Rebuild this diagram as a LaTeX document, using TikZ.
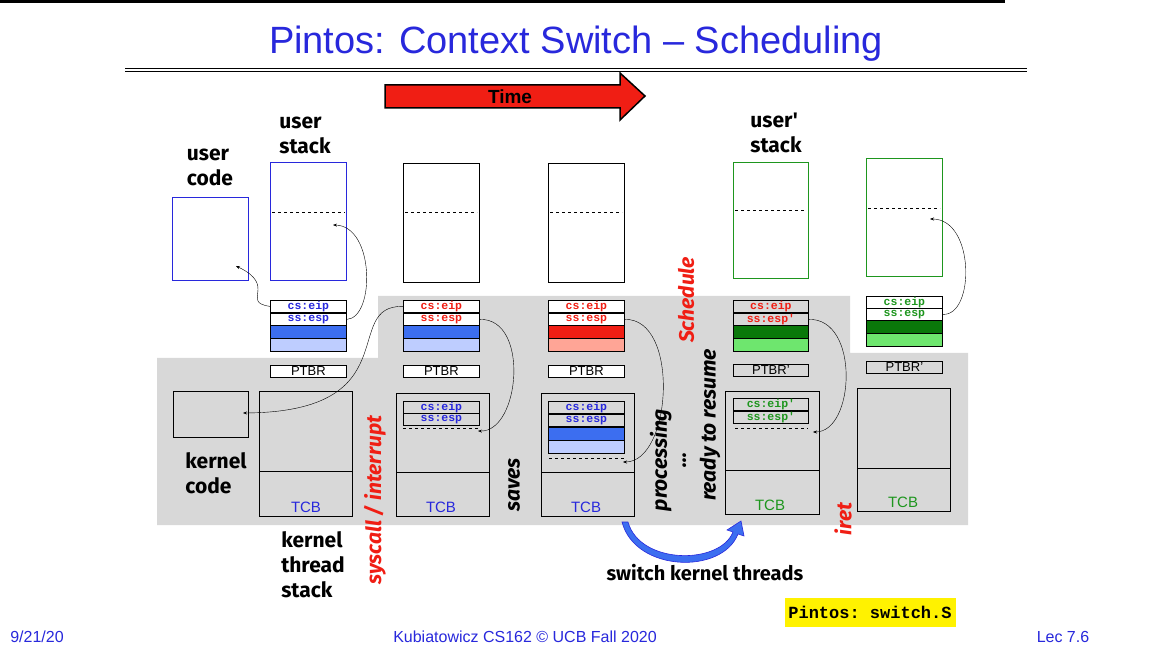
\documentclass[tikz,border=0pt]{standalone}
\usepackage{fontspec}
\setmainfont{Liberation Sans}
\newfontfamily\comic{Fira Sans}
\setmonofont{Liberation Mono}
\usetikzlibrary{arrows.meta,positioning}
\definecolor{colblue}{RGB}{40,40,220}
\definecolor{colfill}{RGB}{60,110,240}
\definecolor{colfilllt}{RGB}{190,205,255}
\definecolor{colred}{RGB}{240,30,20}
\definecolor{colredlt}{RGB}{255,165,150}
\definecolor{colgreen}{RGB}{30,150,30}
\definecolor{colgreendk}{RGB}{10,120,10}
\definecolor{colgreenlt}{RGB}{110,230,110}
\definecolor{colgray}{RGB}{216,216,216}
\tikzset{
	>={Stealth[length=4pt]},
	memory/.style={draw, minimum width=76pt, anchor=north west, inner sep=0pt},
	cell/.style={draw, thick, minimum width=76pt, minimum height=12pt, anchor=north west, inner sep=0pt, font=\ttfamily\bfseries\fontsize{11.5}{11}\selectfont},
	reg/.style={cell, font=\fontsize{13}{13}\selectfont},
	kstack/.style={draw, minimum width=93pt, anchor=north west, inner sep=0pt},
	label/.style={font=\comic\bfseries\fontsize{21}{25}\selectfont, align=left},
	side/.style={font=\comic\bfseries\itshape\fontsize{21}{19}\selectfont, rotate=90},
	foot/.style={text=colblue, font=\fontsize{16}{16}\selectfont},
	link/.style={->, thin}
}
\begin{document}
\begin{tikzpicture}[x=1pt,y=-1pt]
	\useasboundingbox (0,0) rectangle (1152,652);
	\fill[white] (0,0) rectangle (1152,652);
	\fill[black] (0,0) rectangle (1005,3);

	% title
	\node[text=colblue, font=\fontsize{38}{38}\selectfont] (title) at (576,44) {Pintos: Context Switch -- Scheduling};
	\draw[thick] (125,68) -- (1027,68);
	\draw (125,71) -- (1027,71);

	% time arrow
	\draw[fill=colred, line width=1.5pt] (385,85) -- (620,85) -- (620,73) -- (645,96) -- (620,120) -- (620,108) -- (385,108) -- cycle;
	\node[font=\bfseries\fontsize{19}{19}\selectfont] (time) at (510,97) {Time};

	% kernel area
	\fill[colgray] (157,358) -- (378,358) -- (378,296) -- (850,296) -- (850,353) -- (968,353) -- (968,525) -- (157,525) -- cycle;

	% user column
	\node[memory, draw=colblue, minimum height=83pt] (ucode) at (172,197) {};
	\node[memory, draw=colblue, minimum height=118pt] (ustack) at (270,162) {};
	\draw[dashed] (272,212) -- (345,212);
	\coordinate (utop) at (333,225);
	\node[cell, fill=white, text=colblue] (ueip) at (270,300) {cs:eip};
	\node[cell, fill=white, text=colblue] (uesp) at (270,313) {ss:esp};
	\node[cell, fill=colfill, minimum height=13pt] (ua) at (270,325) {};
	\node[cell, fill=colfilllt, minimum height=13pt] (ub) at (270,338) {};
	\node[reg, fill=white] (uptbr) at (270,365) {PTBR};
	\node[memory, minimum width=75pt, minimum height=46pt] (kcode) at (173,391) {};
	\node[kstack, minimum height=125pt] (ukstack) at (259,391) {};
	\draw[thick] (259,471) -- (352,471);
	\node[text=colblue, font=\fontsize{15}{15}\selectfont] (utcb) at (306,507) {TCB};

	% column after syscall
	\node[memory, minimum height=119pt] (bstack) at (403,163) {};
	\draw[dashed] (405,212) -- (477,212);
	\node[cell, fill=white, text=colred] (beip) at (403,300) {cs:eip};
	\node[cell, fill=white, text=colred] (besp) at (403,313) {ss:esp};
	\node[cell, fill=colfill, minimum height=13pt] (ba) at (403,325) {};
	\node[cell, fill=colfilllt, minimum height=13pt] (bb) at (403,338) {};
	\node[reg, fill=white] (bptbr) at (403,365) {PTBR};
	\node[kstack, minimum height=123pt] (bkstack) at (396,393) {};
	\draw[thick] (396,472) -- (490,472);
	\node[cell, fill=colgray, text=colblue] (bkeip) at (403,401) {cs:eip};
	\node[cell, fill=colgray, text=colblue] (bkesp) at (403,413) {ss:esp};
	\draw[dashed] (403,428) -- (479,428);
	\coordinate (bdash) at (478,431);
	\node[text=colblue, font=\fontsize{15}{15}\selectfont] (btcb) at (441,507) {TCB};

	% column while processing
	\node[memory, minimum height=119pt] (cstack) at (548,163) {};
	\draw[dashed] (550,212) -- (622,212);
	\node[cell, fill=white, text=colred] (ceip) at (548,300) {cs:eip};
	\node[cell, fill=white, text=colred] (cesp) at (548,313) {ss:esp};
	\node[cell, fill=colred, minimum height=13pt] (ca) at (548,325) {};
	\node[cell, fill=colredlt, minimum height=13pt] (cb) at (548,338) {};
	\node[reg, fill=white] (cptbr) at (548,365) {PTBR};
	\node[kstack, minimum height=123pt] (ckstack) at (541,393) {};
	\draw[thick] (541,472) -- (635,472);
	\node[cell, fill=colgray, text=colblue] (ckeip) at (548,401) {cs:eip};
	\node[cell, fill=colgray, text=colblue] (ckesp) at (548,414) {ss:esp};
	\node[cell, fill=colfill, minimum height=13pt] (cka) at (548,427) {};
	\node[cell, fill=colfilllt, minimum height=13pt] (ckb) at (548,440) {};
	\draw[dashed] (549,458) -- (624,458);
	\coordinate (cdash) at (623,462);
	\node[text=colblue, font=\fontsize{15}{15}\selectfont] (ctcb) at (586,507) {TCB};

	% column ready to resume
	\node[memory, draw=colgreen, minimum width=75pt, minimum height=116pt] (dstack) at (733,162) {};
	\draw[dashed] (735,210) -- (806,210);
	\node[cell, fill=colgray, text=colred, minimum width=75pt] (deip) at (733,300) {cs:eip};
	\node[cell, fill=colgray, text=colred, minimum width=75pt] (desp) at (733,313) {ss:esp'};
	\node[cell, fill=colgreendk, minimum width=75pt, minimum height=13pt] (da) at (733,325) {};
	\node[cell, fill=colgreenlt, minimum width=75pt, minimum height=13pt] (db) at (733,338) {};
	\node[reg, fill=colgray, minimum width=75pt] (dptbr) at (733,364) {PTBR'};
	\node[kstack, minimum width=94pt, minimum height=123pt] (dkstack) at (725,391) {};
	\draw[thick] (725,470) -- (819,470);
	\node[cell, fill=colgray, text=colgreen, minimum width=75pt] (dkeip) at (733,398) {cs:eip'};
	\node[cell, fill=colgray, text=colgreen, minimum width=75pt] (dkesp) at (733,411) {ss:esp'};
	\draw[dashed] (735,428) -- (808,428);
	\coordinate (ddash) at (813,432);
	\node[text=colgreen, font=\fontsize{15}{15}\selectfont] (dtcb) at (770,505) {TCB};

	% column after iret
	\node[memory, draw=colgreen, minimum height=118pt] (estack) at (866,158) {};
	\draw[dashed] (868,208) -- (940,208);
	\coordinate (etop) at (930,219);
	\node[cell, fill=white, text=colgreen] (eeip) at (866,296) {cs:eip};
	\node[cell, fill=white, text=colgreen] (eesp) at (866,308) {ss:esp};
	\node[cell, fill=colgreendk, minimum height=13pt] (ea) at (866,320) {};
	\node[cell, fill=colgreenlt, minimum height=13pt] (eb) at (866,333) {};
	\node[reg, fill=colgray] (eptbr) at (866,361) {PTBR'};
	\node[kstack, minimum height=123pt] (ekstack) at (857,388) {};
	\draw[thick] (857,468) -- (950,468);
	\node[text=colgreen, font=\fontsize{15}{15}\selectfont] (etcb) at (903,502) {TCB};

	% labels
	\node[label] (lucode) at (210,167) {user\\code};
	\node[label] (lustack) at (305,135) {user\\stack};
	\node[label] (ldstack) at (776,133) {user'\\stack};
	\node[label] (lkcode) at (216,473) {kernel\\code};
	\node[label] (lkstack) at (313,565) {kernel\\thread\\stack};
	\node[side, text=colred] (lsys) at (375,500) {syscall / interrupt};
	\node[side] (lsaves) at (514,485) {saves};
	\node[side, align=center] (lproc) at (668,460) {processing\\...};
	\node[side] (lready) at (710,425) {ready to resume};
	\node[side, text=colred] (lsched) at (686,300) {Schedule};
	\node[side, text=colred] (liret) at (843,519) {iret};
	\node[font=\comic\bfseries\fontsize{20}{20}\selectfont] (lswitch) at (705,573) {switch kernel threads};

	% connectors
	\draw[link] (uesp.east) .. controls (375,318) and (375,226) .. (utop);
	\draw[link] (ueip.west) .. controls (240,302) and (278,286) .. (236,266);
	\draw[link] (beip.west) .. controls (340,305) and (410,412) .. (243,413);
	\draw[link] (besp.east) .. controls (530,318) and (520,432) .. (bdash);
	\draw[link] (cesp.east) .. controls (680,318) and (672,462) .. (cdash);
	\draw[link] (desp.east) .. controls (860,318) and (855,432) .. (ddash);
	\draw[link] (eesp.east) .. controls (975,316) and (975,219) .. (etop);
	\draw[colblue, fill=colfill, line width=0.6pt] (628,522) .. controls (640,565) and (720,565) .. (733,532) -- (727,530) -- (741,521) -- (744,536) -- (738,534) .. controls (722,575) and (635,572) .. (622,522) -- cycle;

	% footer
	\node[fill=yellow, font=\ttfamily\bfseries\fontsize{17}{17}\selectfont, minimum width=171pt, minimum height=29pt] (lfile) at (870,612) {Pintos: switch.S};
	\node[foot] (fdate) at (37,637) {9/21/20};
	\node[foot] (fcourse) at (525,637) {Kubiatowicz CS162 © UCB Fall 2020};
	\node[foot] (flec) at (1063,637) {Lec 7.6};
\end{tikzpicture}
\end{document}
